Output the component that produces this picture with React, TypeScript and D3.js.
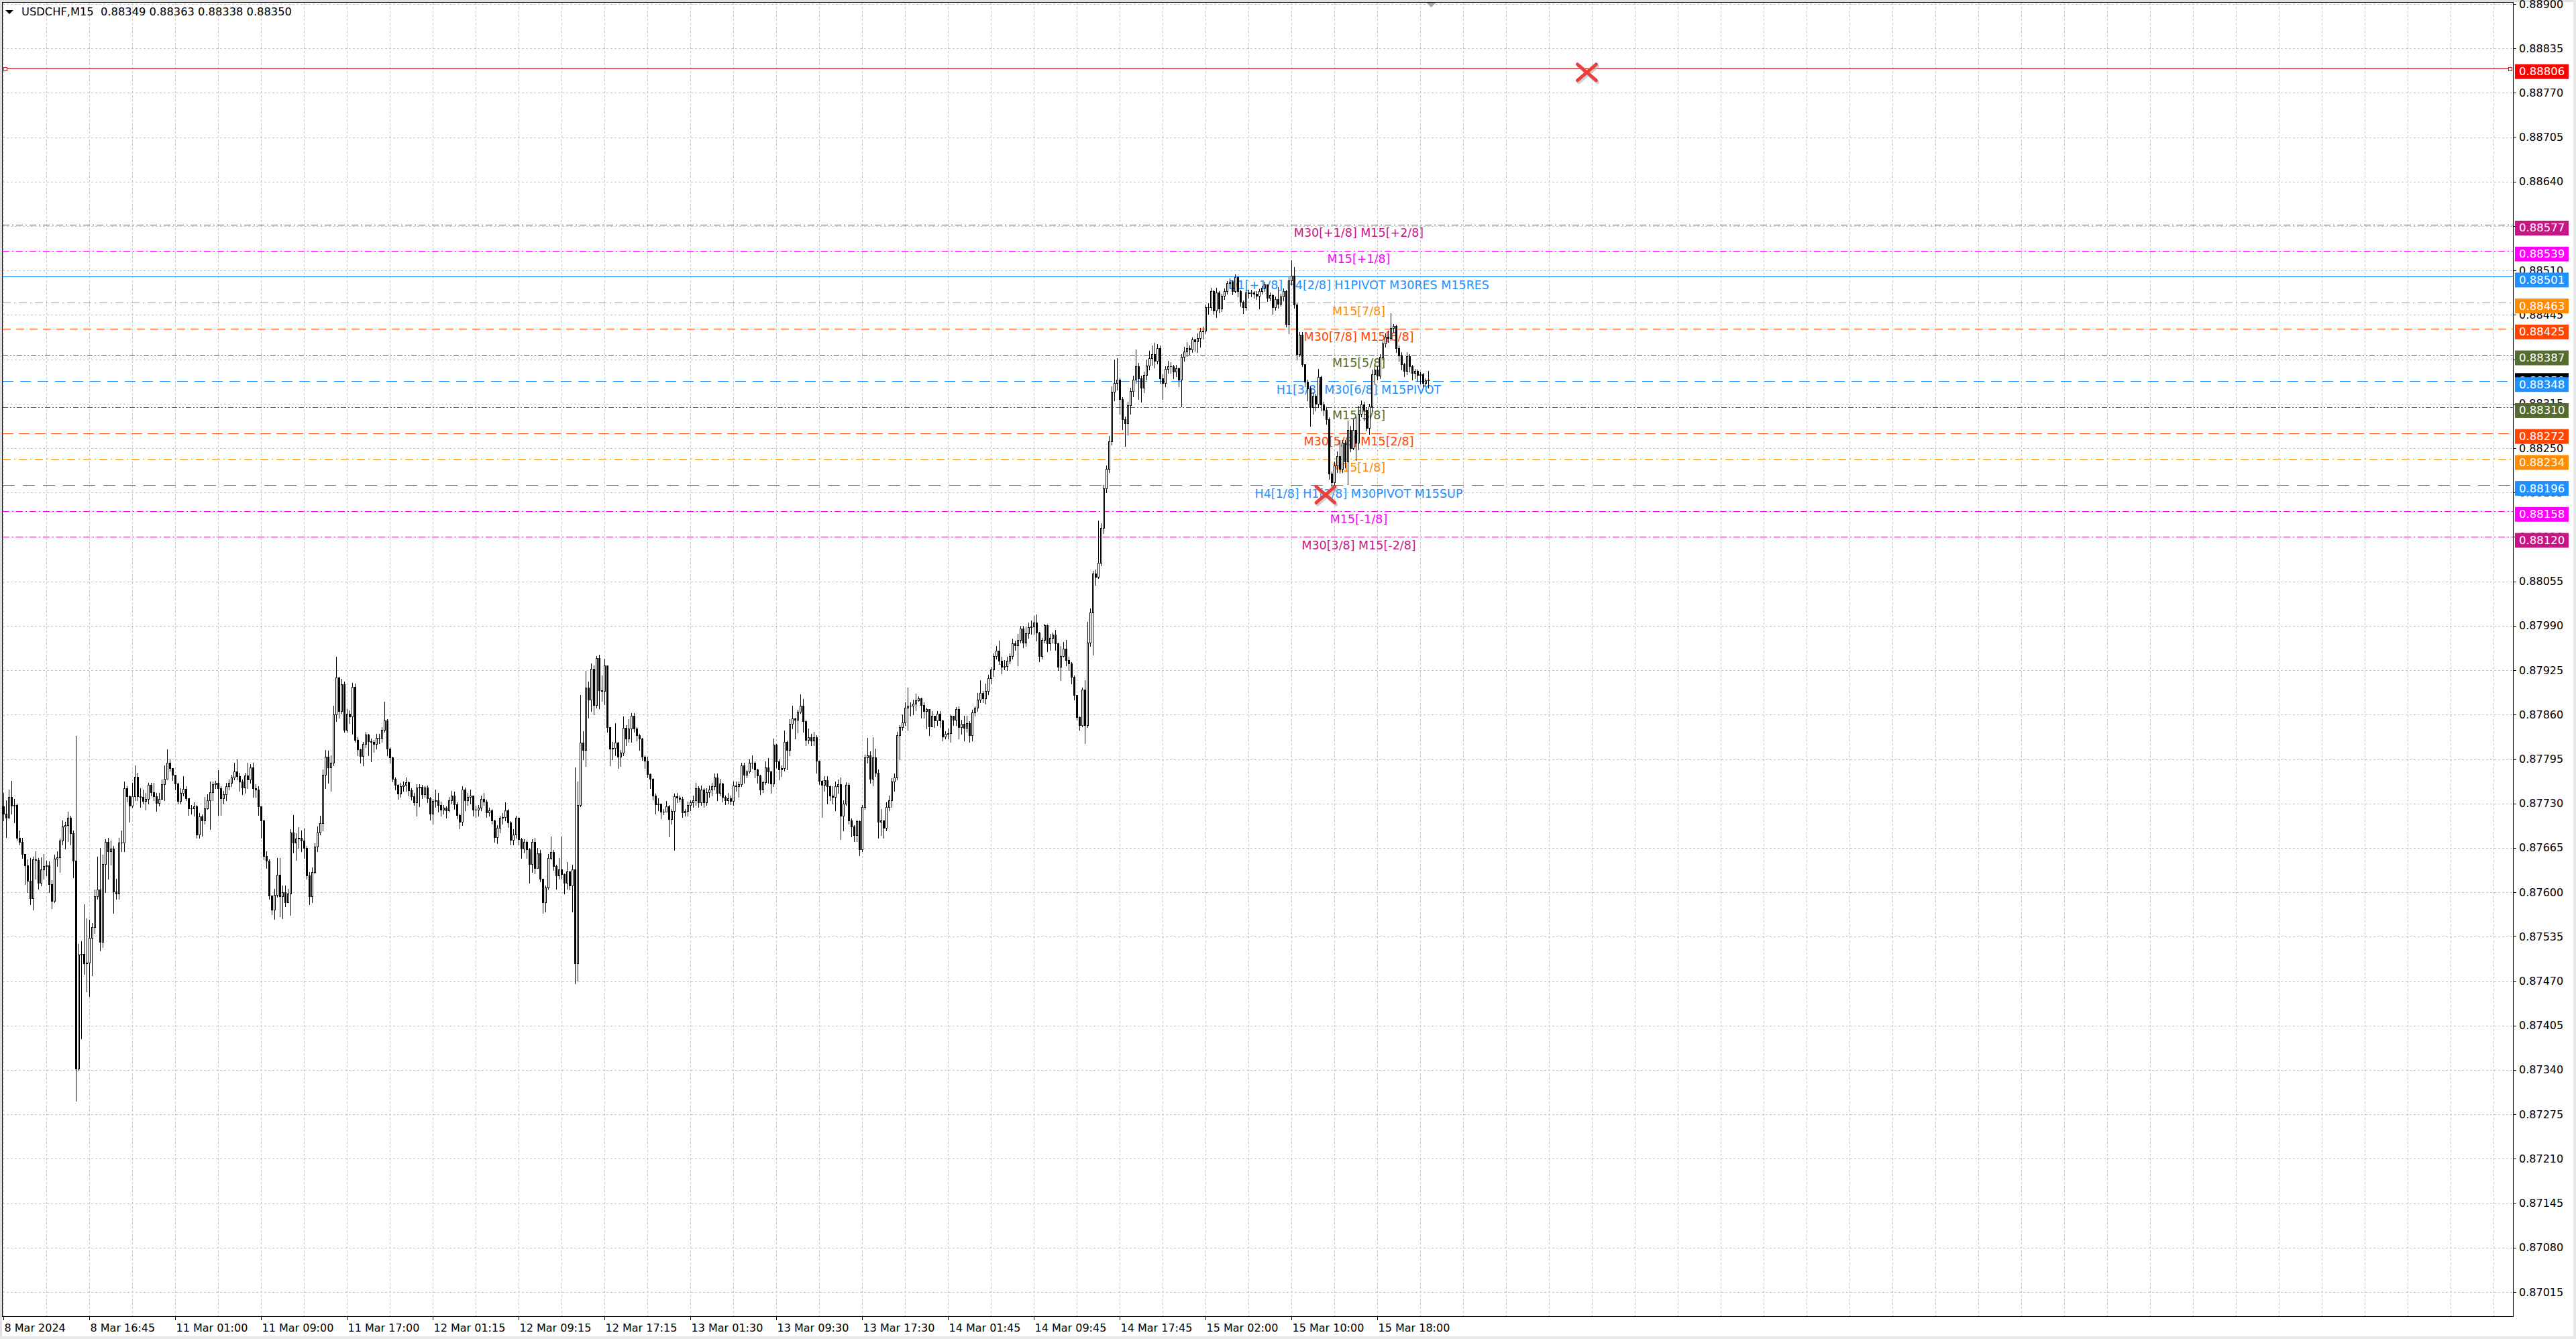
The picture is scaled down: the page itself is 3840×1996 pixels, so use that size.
import React from "react";
import * as d3 from "d3";

const W = 3840;
const H = 1996;
const FONT = "'DejaVu Sans', Verdana, sans-serif";

// ---- price data (points above 0.87000, M15 bars, oldest first) ----
const firstOpen = 726;
const closes = [
  715,709,740,727,728,680,674,656,639,617, 591,648,647,614,634,638,639,612,587,649,
  651,676,696,698,709,687,646,342,509,510, 496,497,533,549,594,604,527,641,674,660,
  664,601,598,673,673,752,741,727,741,769, 741,740,734,737,757,746,741,731,737,758,
  766,790,782,772,759,734,745,751,738,723, 723,726,685,711,705,723,735,746,758,760,
  752,738,743,755,760,768,777,770,762,753, 771,765,783,752,750,726,705,653,646,595,
  575,596,626,594,600,585,598,688,673,679, 680,676,665,625,594,630,667,688,701,772,
  798,783,790,860,914,865,904,838,861,857, 901,823,809,799,817,831,821,820,817,826,
  826,838,851,810,797,766,757,744,755,757, 761,749,741,732,753,754,743,753,738,715,
  734,735,728,721,724,720,735,742,729,713, 703,750,735,740,742,721,721,724,737,733,
  717,720,705,681,694,709,710,720,702,677, 685,709,678,664,674,663,641,674,635,657,
  620,585,607,650,659,638,625,634,627,614, 631,610,634,496,728,819,808,900,882,927,
  874,943,896,895,932,842,810,811,819,798, 804,841,825,840,858,840,830,825,798,793,
  773,766,742,729,730,718,718,726,707,719, 741,739,737,717,719,728,732,735,752,732,
  750,732,746,750,755,768,745,759,740,735, 738,734,756,755,758,786,772,777,790,790,
  780,771,750,761,783,777,759,816,792,780, 782,820,808,847,854,852,864,873,850,823,
  827,822,827,793,763,757,764,755,742,740, 755,758,712,730,757,705,696,684,704,663,
  725,797,800,766,797,775,703,705,694,725, 735,762,768,830,842,849,870,873,873,876,
  881,884,874,865,868,843,858,851,861,851, 828,832,833,858,852,868,842,847,841,848,
  830,863,870,882,892,884,895,913,926,946, 954,939,930,931,939,946,964,961,969,986,
  965,979,988,989,995,980,946,969,991,964, 972,977,964,930,946,957,940,935,915,889,
  856,845,897,845,965,1010,1066,1062,1082,1133, 1191,1220,1260,1333,1345,1350,1322,1292,1286,1313,
  1334,1350,1370,1352,1338,1357,1371,1382,1388,1378, 1396,1352,1345,1366,1370,1370,1362,1367,1350,1384,
  1391,1396,1394,1409,1406,1411,1421,1422,1456,1456, 1480,1451,1478,1454,1473,1480,1492,1494,1480,1500,
  1480,1464,1456,1478,1477,1478,1476,1473,1480,1485, 1490,1470,1474,1456,1468,1461,1472,1480,1432,1496,
  1502,1460,1388,1416,1373,1347,1337,1310,1327,1315, 1354,1314,1306,1292,1213,1200,1225,1238,1220,1258,
  1230,1277,1250,1277,1258,1300,1314,1306,1280,1311, 1358,1365,1356,1384,1403,1413,1411,1426,1429,1396,
  1386,1373,1363,1385,1370,1360,1363,1357,1358,1345, 1349,1350,
];
const highs = [
  745,735,750,763,737,730,690,680,656,648, 650,652,660,650,651,656,646,645,618,655,
  660,679,705,703,718,712,690,829,525,528, 582,562,560,555,604,652,665,655,678,680,
  676,668,620,680,690,762,755,742,760,786, 775,752,750,745,760,760,760,745,745,765,
  786,809,795,776,770,760,752,770,755,738, 728,732,728,716,714,740,743,762,762,763,
  779,755,748,760,765,772,790,795,775,765, 775,790,788,790,758,755,726,706,660,648,
  595,605,650,650,610,610,605,692,713,687, 695,690,693,668,630,636,672,696,712,780,
  808,807,800,873,945,915,912,908,868,866, 906,905,827,810,820,835,832,825,823,832,
  832,842,879,853,812,798,768,758,760,762, 768,762,752,745,758,758,757,755,756,740,
  737,750,745,733,728,726,740,748,747,732, 715,755,753,745,750,738,727,728,742,745,
  736,724,722,706,698,712,716,732,722,704, 692,712,708,680,678,676,665,678,680,665,
  662,620,610,656,682,662,640,650,682,628, 644,625,640,783,762,889,836,924,908,935,
  932,946,948,917,942,932,842,820,848,820, 808,857,845,853,862,862,842,832,826,800,
  798,774,767,744,738,728,722,734,728,722, 744,745,742,740,722,733,735,742,760,755,
  756,752,752,756,760,774,774,766,760,742, 745,742,762,762,762,790,790,779,795,800,
  792,781,772,763,792,796,778,825,817,795, 786,837,822,853,873,855,867,890,883,851,
  840,832,835,830,793,764,770,770,756,755, 762,765,768,735,761,760,708,698,706,705,
  728,801,826,806,827,810,780,722,705,732, 742,767,774,835,845,860,878,900,878,882,
  891,887,885,878,870,848,865,858,865,865, 852,836,840,860,858,871,872,852,858,858,
  850,867,872,892,910,895,905,918,930,950, 960,968,945,940,945,950,971,968,978,990,
  990,988,995,998,1005,1007,981,972,993,992, 978,980,984,965,960,966,969,945,937,917,
  889,857,900,910,996,1015,1070,1072,1144,1140, 1196,1225,1268,1340,1380,1382,1352,1325,1296,1318,
  1338,1356,1394,1375,1356,1362,1380,1392,1400,1404, 1402,1400,1358,1370,1378,1376,1372,1372,1368,1388,
  1398,1405,1400,1412,1410,1418,1426,1428,1460,1462, 1485,1482,1485,1480,1476,1484,1495,1498,1496,1504,
  1502,1482,1466,1482,1482,1482,1480,1480,1483,1488, 1494,1490,1478,1476,1472,1486,1476,1484,1482,1500,
  1525,1515,1462,1420,1420,1373,1350,1340,1332,1330, 1366,1356,1318,1310,1295,1216,1230,1245,1262,1262,
  1262,1290,1282,1292,1296,1312,1320,1318,1310,1315, 1365,1372,1370,1388,1406,1418,1422,1447,1432,1431,
  1400,1390,1375,1390,1388,1372,1366,1365,1362,1360, 1352,1363,
];
const lows = [
  705,681,709,715,702,677,670,650,612,600, 582,575,620,605,610,620,625,600,577,585,
  638,630,670,664,675,670,622,295,340,386, 480,455,448,478,540,590,515,520,600,620,
  640,570,590,590,660,660,733,703,725,735, 735,725,730,721,730,742,735,719,727,740,
  735,780,778,764,750,730,730,742,735,713, 715,712,680,680,683,700,722,692,735,752,
  713,713,730,735,750,755,765,765,748,743, 745,752,760,740,740,713,680,648,635,590,
  568,561,593,565,562,580,585,567,658,647, 665,660,650,620,582,585,628,660,685,690,
  752,760,748,786,850,855,862,835,835,848, 832,820,800,790,786,812,800,792,805,810,
  818,820,835,800,790,762,750,737,740,748, 748,742,736,728,712,726,738,740,732,706,
  700,725,718,712,715,709,718,730,722,708, 693,698,720,728,730,712,710,712,720,728,
  710,712,700,674,672,688,700,705,695,670, 670,680,670,650,658,650,614,630,628,635,
  616,570,572,605,648,633,605,620,620,598, 605,604,572,467,471,726,795,785,855,865,
  860,870,869,880,875,835,786,795,800,782, 785,800,815,820,820,835,822,808,794,782,
  768,752,736,715,720,708,714,718,682,700, 662,732,733,710,712,712,720,725,728,725,
  728,725,728,740,742,750,735,742,733,729, 730,729,728,748,740,755,760,768,775,782,
  768,760,743,746,758,760,745,755,783,765, 770,778,780,800,840,825,834,862,835,815,
  818,815,815,775,758,710,748,730,735,730, 720,745,678,690,728,700,682,675,675,654,
  660,722,790,760,756,770,680,684,680,690, 720,725,748,765,795,838,845,838,858,860,
  866,880,855,855,840,830,843,842,845,842, 822,825,825,820,845,845,825,832,822,835,
  820,822,858,865,878,878,876,890,905,916, 942,934,920,926,925,935,942,955,932,965,
  958,960,972,978,978,968,938,942,965,953, 955,965,955,925,910,945,932,925,905,882,
  852,838,843,818,842,960,948,1050,1060,1078, 1125,1185,1215,1255,1320,1335,1300,1278,1253,1270,
  1300,1326,1345,1322,1318,1332,1350,1365,1372,1368, 1374,1345,1322,1340,1360,1360,1352,1355,1340,1311,
  1378,1385,1388,1390,1392,1390,1398,1410,1418,1446, 1452,1446,1442,1448,1450,1468,1476,1485,1475,1478,
  1472,1458,1447,1452,1470,1472,1470,1468,1454,1476, 1480,1465,1466,1446,1452,1455,1458,1466,1428,1418,
  1490,1455,1380,1385,1370,1340,1320,1282,1300,1305, 1310,1305,1298,1285,1205,1192,1196,1215,1214,1215,
  1222,1197,1245,1248,1232,1248,1296,1290,1276,1271, 1305,1345,1350,1352,1380,1398,1405,1408,1420,1390,
  1378,1365,1355,1358,1362,1350,1352,1348,1344,1340, 1340,1338,
];

// ---- axes ----
const priceTicks = [
  0.889, 0.88835, 0.8877, 0.88705, 0.8864, 0.88575, 0.8851, 0.88445, 0.8838, 0.88315,
  0.8825, 0.88185, 0.8812, 0.88055, 0.8799, 0.87925, 0.8786, 0.87795, 0.8773, 0.87665,
  0.876, 0.87535, 0.8747, 0.87405, 0.8734, 0.87275, 0.8721, 0.87145, 0.8708, 0.87015,
];
const dateLabels = [
  "8 Mar 2024", "8 Mar 16:45", "11 Mar 01:00", "11 Mar 09:00", "11 Mar 17:00",
  "12 Mar 01:15", "12 Mar 09:15", "12 Mar 17:15", "13 Mar 01:30", "13 Mar 09:30",
  "13 Mar 17:30", "14 Mar 01:45", "14 Mar 09:45", "14 Mar 17:45", "15 Mar 02:00",
  "15 Mar 10:00", "15 Mar 18:00",
];

// ---- Murrey-math style levels ----
const levelPrices = [0.88577, 0.88539, 0.88501, 0.88463, 0.88425, 0.88387, 0.88348, 0.8831, 0.88272, 0.88234, 0.88196, 0.88158, 0.8812];
const levelTexts = [
  "M30[+1/8] M15[+2/8]", "M15[+1/8]", "D1[+1/8] H4[2/8] H1PIVOT M30RES M15RES", "M15[7/8]",
  "M30[7/8] M15[6/8]", "M15[5/8]", "H1[3/8] M30[6/8] M15PIVOT", "M15[3/8]", "M30[5/8] M15[2/8]",
  "M15[1/8]", "H4[1/8] H1[2/8] M30PIVOT M15SUP", "M15[-1/8]", "M30[3/8] M15[-2/8]",
];
const levelColors = ["#C71585", "#FF00FF", "#1E90FF", "#FF8C00", "#FF4500", "#556B2F", "#1E90FF", "#556B2F", "#FF4500", "#FF8C00", "#1E90FF", "#FF00FF", "#C71585"];
const levelDashes = ["10,4,2,4", "10,4,2,4", "", "12,5,2,5", "12,8", "8,3,2,3,2,3", "16,10", "8,3,2,3,2,3", "16,8", "12,5,2,5", "18,12", "10,4,2,4", "10,4,2,4"];

const redLinePrice = 0.88806;
const bidPrice = 0.8835;
const headerText = "USDCHF,M15  0.88349 0.88363 0.88338 0.88350";
const crossBars = [590, 492.6];
const crossPrices = [0.888, 0.88182];
const labelBar = 505;
const shiftBar = 532;

export default function App() {
  React.useEffect(() => {
    document.body.style.margin = "0";
  }, []);

  const P = (v: number) => 0.87 + v / 1e5;
  const y = d3.scaleLinear().domain([0.87015, 0.889]).range([1926, 6]);
  const x = d3.scaleLinear().domain([0, 1]).range([5.5, 9.5]);
  const L = 3.5, T = 3.5, R = 3746.5, B = 1962.5;
  const sy = (p: number) => Math.round(y(p)) + 0.5;
  const fmt = d3.format(".5f");

  const vGrid: number[] = [];
  for (let k = 0; x(16 * k) < R; k++) vGrid.push(x(16 * k));

  const bars = closes.map((c, i) => {
    const o = i === 0 ? firstOpen : closes[i - 1];
    return { i, o: P(o), c: P(c), h: P(Math.max(highs[i], o, c)), l: P(Math.min(lows[i], o, c)) };
  });

  const axisX = R;
  const boxX = 3749;
  const boxW = 80;
  const boxUp = 6;
  const boxH = 22;
  const boxMid = boxH / 2 - boxUp;

  return (
    <svg width={W} height={H} style={{ position: "absolute", left: 0, top: 0, display: "block", background: "#fff" }} fontFamily={FONT}>
      <rect x={0} y={0} width={W} height={H} fill="#ffffff" />
      {/* outer window frame */}
      <rect x={0} y={0} width={W} height={3} fill="#e1e1e1" />
      <rect x={0} y={0} width={3} height={H} fill="#e1e1e1" />
      <rect x={W - 4} y={0} width={4} height={H} fill="#e8e8e8" />
      <rect x={0} y={H - 4} width={W} height={4} fill="#e8e8e8" />

      {/* grid */}
      <g stroke="#c4c4c4" strokeWidth={1} strokeDasharray="3,3" shapeRendering="crispEdges">
        {vGrid.map((gx, k) => (
          <line key={"v" + k} x1={gx} x2={gx} y1={T} y2={B} />
        ))}
        {priceTicks.map((p, k) => (
          <line key={"h" + k} x1={L} x2={R} y1={sy(p)} y2={sy(p)} />
        ))}
      </g>

      {/* level lines */}
      <g shapeRendering="crispEdges">
        {levelPrices.map((p, k) => (
          <line key={k} x1={L} x2={R} y1={sy(p)} y2={sy(p)} stroke={levelColors[k]} strokeWidth={1}
            strokeDasharray={levelDashes[k] || undefined} />
        ))}
        <line x1={L + 4} x2={R - 4} y1={sy(redLinePrice)} y2={sy(redLinePrice)} stroke="#c81414" strokeWidth={1} />
        <rect x={L + 2} y={sy(redLinePrice) - 2.5} width={5} height={5} fill="#fff" stroke="#c81414" />
        <rect x={R - 7} y={sy(redLinePrice) - 2.5} width={5} height={5} fill="#fff" stroke="#c81414" />
      </g>

      {/* level labels */}
      <g fontSize={17.5} textAnchor="middle">
        {levelPrices.map((p, k) => (
          <text key={k} x={x(labelBar)} y={y(p) + 12.5} dominantBaseline="central" fill={levelColors[k]}>
            {levelTexts[k]}
          </text>
        ))}
      </g>

      {/* candles */}
      <g shapeRendering="crispEdges">
        {bars.map((b) => {
          const cx = x(b.i);
          const top = Math.round(y(Math.max(b.o, b.c)));
          const bot = Math.round(y(Math.min(b.o, b.c)));
          const bull = b.c > b.o;
          return (
            <g key={b.i}>
              <line x1={cx} x2={cx} y1={Math.round(y(b.h))} y2={Math.round(y(b.l)) + 1} stroke="#000" strokeWidth={1} />
              <rect x={cx - 1} y={top + 0.5} width={2} height={Math.max(bot - top, 0.01)} fill={bull ? "#fff" : "#000"} stroke="#000" strokeWidth={1} />
            </g>
          );
        })}
      </g>

      {/* red X markers */}
      {crossBars.map((cb, k) => {
        const cx = x(cb);
        const cy = y(crossPrices[k]);
        const d = `M${cx - 14},${cy - 12}L${cx + 14},${cy + 12}M${cx + 14},${cy - 12}L${cx - 14},${cy + 12}`;
        return (
          <g key={k}>
            <path d={d} transform="translate(2,3)" stroke="#b0b0b0" strokeOpacity={0.6} strokeWidth={5} strokeLinecap="round" fill="none" />
            <path d={d} stroke="#e8413c" strokeWidth={5} strokeLinecap="round" fill="none" />
          </g>
        );
      })}

      {/* chart shift marker */}
      <path d={`M${x(shiftBar) - 7},4L${x(shiftBar) + 7},4L${x(shiftBar)},11Z`} fill="#a8a8a8" />

      {/* frame */}
      <rect x={L} y={T} width={R - L} height={B - T} fill="none" stroke="#000" strokeWidth={1} shapeRendering="crispEdges" />

      {/* header */}
      <path d="M8,15L20,15L14,21Z" fill="#000" />
      <text x={32} y={17} fontSize={16.3} dominantBaseline="central" fill="#000" style={{ whiteSpace: "pre" }}>
        {headerText}
      </text>

      {/* right price axis */}
      <g fontSize={16} fill="#000">
        {priceTicks.map((p, k) => (
          <g key={k}>
            <line x1={axisX} x2={axisX + 4} y1={sy(p)} y2={sy(p)} stroke="#000" shapeRendering="crispEdges" />
            <text x={3755} y={y(p)} dominantBaseline="central">{fmt(p)}</text>
          </g>
        ))}
      </g>
      <g fontSize={16.5}>
        <rect x={boxX} y={y(redLinePrice) - boxUp} width={boxW} height={boxH} fill="#ff0000" />
        <text x={3755} y={y(redLinePrice) + boxMid} dominantBaseline="central" fill="#fff">{fmt(redLinePrice)}</text>
        <rect x={boxX} y={y(levelPrices[6]) - boxUp - 6} width={boxW} height={boxH} fill="#000" />
        <text x={3755} y={y(levelPrices[6]) + boxMid - 6} dominantBaseline="central" fill="#fff">{fmt(bidPrice)}</text>
        {levelPrices.map((p, k) => (
          <g key={k}>
            <rect x={boxX} y={y(p) - boxUp} width={boxW} height={boxH} fill={levelColors[k]} />
            <text x={3755} y={y(p) + boxMid} dominantBaseline="central" fill="#fff">{fmt(p)}</text>
          </g>
        ))}
      </g>

      {/* bottom time axis */}
      <g fontSize={16} fill="#000">
        {dateLabels.map((s, k) => (
          <g key={k}>
            <line x1={x(32 * k)} x2={x(32 * k)} y1={B} y2={B + 5} stroke="#000" shapeRendering="crispEdges" />
            <text x={x(32 * k) + 1} y={1979} dominantBaseline="central">{s}</text>
          </g>
        ))}
      </g>
    </svg>
  );
}
